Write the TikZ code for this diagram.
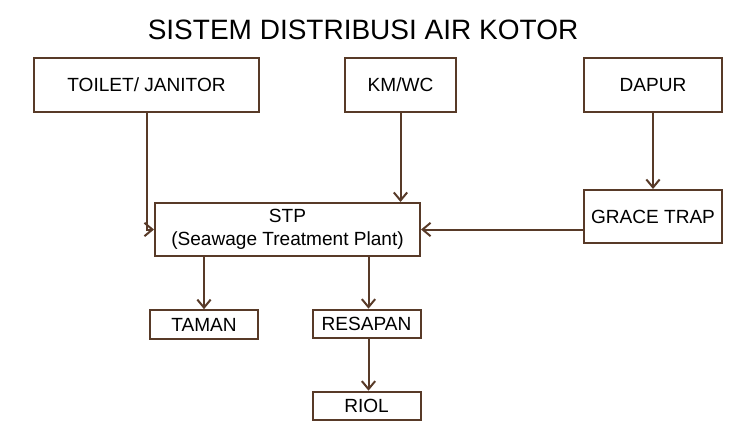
\documentclass[tikz,border=0pt]{standalone}
\usepackage{fontspec}
\setmainfont{Liberation Sans}
\usepackage{tikz}
\usetikzlibrary{arrows.meta,positioning,calc}
\definecolor{kotor}{RGB}{88,58,40}

\begin{document}
\begin{tikzpicture}[
  x=0.75pt,y=-0.75pt,
  font=\fontsize{14.3}{17.3}\selectfont,
  bx/.style={draw=kotor,line width=1.5pt,inner sep=2pt,align=center,minimum height=40.5pt},
  sbx/.style={bx,minimum height=21.5pt,minimum width=81pt},
  flow/.style={draw=kotor,line width=1.5pt,-{Straight Barb[length=6pt,width=10pt]}}]
\useasboundingbox (0,0) rectangle (732,421);

% --- title ---
\node[font=\fontsize{21}{25}\selectfont] (ttl) at (363,30) {SISTEM DISTRIBUSI AIR KOTOR};

% --- sources, top row ---
\node[bx,minimum width=168.75pt] (toilet) at (146.5,85) {TOILET/ JANITOR};
\node[bx,minimum width=83.25pt]  (kmwc)   at (400.5,85) {KM/WC};
\node[bx,minimum width=103.5pt]  (dapur)  at (653,85)   {DAPUR};

% --- treatment ---
\node[bx,minimum width=198.75pt,minimum height=39.75pt] (stp) at (287.5,229.5)
  {STP\\(Seawage Treatment Plant)};
\node[bx,minimum width=103.5pt,minimum height=39.75pt] (grace) at (653,216.5) {GRACE TRAP};

% --- outlets ---
\node[sbx] (taman)   at (204,324.5) {TAMAN};
\node[sbx] (resapan) at (366.5,324) {RESAPAN};
\node[sbx] (riol)    at (366.5,406) {RIOL};

% --- connectors ---
\draw[flow] (toilet.south) |- (stp.west);
\draw[flow] (kmwc.south) -- (kmwc.south |- stp.north);
\draw[flow] (dapur.south) -- (grace.north);
\draw[flow] (grace.west |- stp.east) -- (stp.east);
\draw[flow] (taman.north |- stp.south) -- (taman.north);
\draw[flow] ([xshift=1.5]resapan.north |- stp.south) -- ([xshift=1.5]resapan.north);
\draw[flow] ([xshift=1.5]resapan.south) -- ([xshift=1.5]riol.north);
\end{tikzpicture}
\end{document}
